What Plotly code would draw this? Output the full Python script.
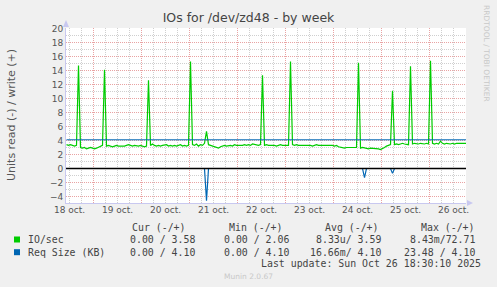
import plotly.graph_objects as go
import pandas as pd

# ---------------- DATA ----------------
start = "2025-10-18 10:30"
view_start = "2025-10-18 10:15"
view_end = "2025-10-26 18:15"

# IO/sec write (+), hourly samples from start (201 values)
io_write = [
    3.4, 3.3, 3.4, 3.3, 3.2, 3.3,
    14.7,
    3.0, 2.9, 3.0, 2.8, 2.9, 3.0, 2.9, 2.8, 2.9, 3.0, 3.1, 3.3,
    14.1,
    3.2, 3.3, 3.2, 3.1, 3.2, 3.3, 3.2, 3.2, 3.1, 3.2, 3.3, 3.4, 3.3, 3.2, 3.3, 3.2, 3.2, 3.3, 3.2, 3.1, 3.2,
    12.6,
    3.3, 3.5, 3.3, 3.2, 3.3, 3.2, 3.3, 3.3, 3.4, 3.2, 3.3, 3.2, 3.3, 3.2, 3.3, 3.4, 3.2, 3.3, 3.2, 3.3,
    15.3,
    3.4, 3.3, 3.5, 3.2, 3.4, 3.3, 3.6,
    5.3,
    3.4, 3.3, 3.2, 3.1, 3.0, 2.9, 3.1, 3.2, 3.3, 3.2, 3.3, 3.3, 3.2, 3.4, 3.3, 3.3, 3.2, 3.3, 3.4, 3.3,
    3.4, 3.3, 3.5, 3.4, 3.3, 3.3, 3.4,
    13.3,
    3.3, 3.4, 3.3, 3.3, 3.4, 3.3, 3.2, 3.3, 3.4, 3.3, 3.3, 3.4, 3.3,
    15.3,
    3.4, 3.3, 3.4, 3.3, 3.3, 3.4, 3.3, 3.4, 3.3, 3.3, 3.2, 3.3, 3.4, 3.3, 3.3, 3.4, 3.3, 3.3, 3.4, 3.3,
    3.3, 3.2, 3.3, 3.1, 3.0, 3.0, 2.9, 3.0, 3.0, 2.9, 3.0, 2.9, 3.0,
    15.1,
    2.9, 3.0, 2.9, 2.9, 2.8, 2.9, 2.9, 2.8, 2.9, 2.8, 2.7, 2.8, 3.0, 3.2, 3.3, 3.4,
    11.1,
    3.4, 3.5, 3.4, 3.5, 3.6, 3.5, 3.5, 3.4,
    14.6,
    3.5, 3.6, 3.5, 3.5, 3.6, 3.5, 3.5, 3.6, 3.5,
    15.4,
    3.6, 3.5, 3.6, 3.5, 3.9, 3.6, 3.5, 3.6, 3.5, 3.5, 3.6, 3.5, 3.6, 3.6, 3.5, 3.6, 3.5, 3.6,
]
assert len(io_write) == 201

# Req Size (KB) write (+): constant 4.10
req_write_level = 4.10
# Req Size (KB) read (-): zero except these samples
req_read_spike_hours = [70, 149, 163]
req_read_spike_vals = [-4.6, -1.3, -0.7]

day_labels = ["18 oct.", "19 oct.", "20 oct.", "21 oct.", "22 oct.",
              "23 oct.", "24 oct.", "25 oct.", "26 oct."]
label_days = ["2025-10-%02d 12:00" % d for d in range(18, 27)]
midnights = ["2025-10-%02d 00:00" % d for d in range(19, 27)]

legend_names = ["IO/sec", "Req Size (KB)"]
legend_colors = ["#00CC00", "#0066B3"]
col_headers = ["Cur (-/+)", "Min (-/+)", "Avg (-/+)", "Max (-/+)"]
stats = [
    ["0.00 / 3.58", "0.00 / 2.06", "8.33u/ 3.59", "8.43m/72.71"],
    ["0.00 / 4.10", "0.00 / 4.10", "16.66m/ 4.10", "23.48 / 4.10"],
]
last_update = "Last update: Sun Oct 26 18:30:10 2025"

# ---------------- BUILD ----------------
times = pd.date_range(start=start, periods=len(io_write), freq="h")
req_write = [req_write_level] * len(io_write)
req_read = [0.0] * len(io_write)
for h, v in zip(req_read_spike_hours, req_read_spike_vals):
    req_read[h] = v

L, T, W, H = 66, 28, 400, 175
FW, FH = 497, 287


def px(x):
    return (x - L) / W


def py(y):
    return (T + H - y) / H


GREEN, BLUE = legend_colors
fig = go.Figure()
fig.add_trace(go.Scatter(x=times, y=io_write, mode="lines", line=dict(color=GREEN, width=1.2),
                         hoverinfo="skip", showlegend=False))
fig.add_trace(go.Scatter(x=times, y=req_read, mode="lines", line=dict(color=BLUE, width=1.2),
                         hoverinfo="skip", showlegend=False))
fig.add_trace(go.Scatter(x=times, y=req_write, mode="lines", line=dict(color=BLUE, width=1),
                         hoverinfo="skip", showlegend=False))
# dummy trace so the label axis exists
fig.add_trace(go.Scatter(x=[times[0]], y=[None], xaxis="x2", mode="lines", showlegend=False, hoverinfo="skip"))

GRID_RED = "#e9a3a3"
GRID_GRAY = "#cfcfcf"
AXIS_COL = "#c8c8f0"
TXT = "#555555"

fig.update_layout(
    width=FW, height=FH, autosize=False,
    margin=dict(l=L, r=FW - L - W, t=T, b=FH - T - H),
    paper_bgcolor="#F0F0F0", plot_bgcolor="#FFFFFF",
    title=dict(text="IOs for /dev/zd48 - by week", x=0.5, xref="container", xanchor="center",
               y=1 - 18 / FH, yref="container", yanchor="middle",
               font=dict(family="DejaVu Sans", size=12.5, color="#444444")),
    xaxis=dict(type="date", range=[view_start, view_end], tickmode="array", tickvals=midnights,
               showticklabels=False, ticks="", showgrid=True, gridcolor=GRID_RED, griddash="1px,1px",
               gridwidth=1, showline=True, linecolor=AXIS_COL, linewidth=1, zeroline=False,
               minor=dict(tickmode="linear", tick0="2025-10-18 00:00", dtick=6 * 3600 * 1000,
                          showgrid=True, gridcolor=GRID_GRAY, griddash="1px,1px", gridwidth=1, ticks="")),
    xaxis2=dict(type="date", overlaying="x", matches="x", anchor="y", side="bottom",
                tickmode="array", tickvals=label_days, ticktext=day_labels, showgrid=False,
                ticks="", showline=False, zeroline=False,
                tickfont=dict(family="DejaVu Sans", size=9, color=TXT)),
    yaxis=dict(range=[-4.93, 20.07], tickmode="linear", tick0=0, dtick=2, showgrid=True,
               gridcolor=GRID_RED, griddash="1px,1px", gridwidth=1, zeroline=False,
               showline=True, linecolor=AXIS_COL, linewidth=1, ticks="",
               tickfont=dict(family="DejaVu Sans", size=9, color=TXT),
               minor=dict(tickmode="linear", tick0=1, dtick=1, showgrid=True, gridcolor=GRID_GRAY,
                          griddash="1px,1px", gridwidth=1, ticks="")),
)

shapes = []
# zero rule
shapes.append(dict(type="line", xref="paper", yref="y", x0=0, x1=1, y0=0, y1=0,
                   line=dict(color="#000000", width=1.5), layer="above"))
# axis arrows
shapes.append(dict(type="path", xref="paper", yref="paper", xsizemode="pixel", ysizemode="pixel",
                   xanchor=0, yanchor=1, path="M-3,1 L3,1 L0,8 Z", fillcolor=AXIS_COL,
                   line=dict(width=0)))
shapes.append(dict(type="path", xref="paper", yref="paper", xsizemode="pixel", ysizemode="pixel",
                   xanchor=1, yanchor=0, path="M1,-3 L1,3 L7,0 Z", fillcolor=AXIS_COL,
                   line=dict(width=0)))
# legend squares
for i, c in enumerate(legend_colors):
    yc = 239.5 + 12.7 * i
    shapes.append(dict(type="rect", xref="paper", yref="paper", x0=px(14), x1=px(20),
                       y0=py(yc + 3), y1=py(yc - 3), fillcolor=c, line=dict(width=0)))
fig.update_layout(shapes=shapes)

ann = []
MONO = dict(family="DejaVu Sans Mono", size=9.9, color="#444444")


def text(x, y, s, anchor="left", font=MONO, angle=0):
    ann.append(dict(x=px(x), y=py(y), xref="paper", yref="paper", text=s, showarrow=False,
                    xanchor=anchor, yanchor="middle", font=font, textangle=angle))


# y axis title
text(11, 115, "Units read (-) / write (+)", anchor="center",
     font=dict(family="DejaVu Sans", size=11, color=TXT), angle=-90)
# rrdtool watermark
text(487, 53, "RRDTOOL / TOBI OETIKER", anchor="center",
     font=dict(family="DejaVu Sans", size=7.5, color="#c8c8c8"), angle=90)

header_right = [188, 285, 381, 477]
value_right = [197, 290.5, 383, 477]
for hdr, xr in zip(col_headers, header_right):
    text(xr, 227, hdr, anchor="right")
for r, (name, row) in enumerate(zip(legend_names, stats)):
    yc = 239.5 + 12.7 * r
    text(26, yc, name)
    for val, xr in zip(row, value_right):
        text(xr, yc, val, anchor="right")
text(482.5, 263.5, last_update, anchor="right")
text(248, 276.5, "Munin 2.0.67", anchor="center",
     font=dict(family="DejaVu Sans", size=7.5, color="#c8c8c8"))
fig.update_layout(annotations=ann)

fig.write_html("out.html")
